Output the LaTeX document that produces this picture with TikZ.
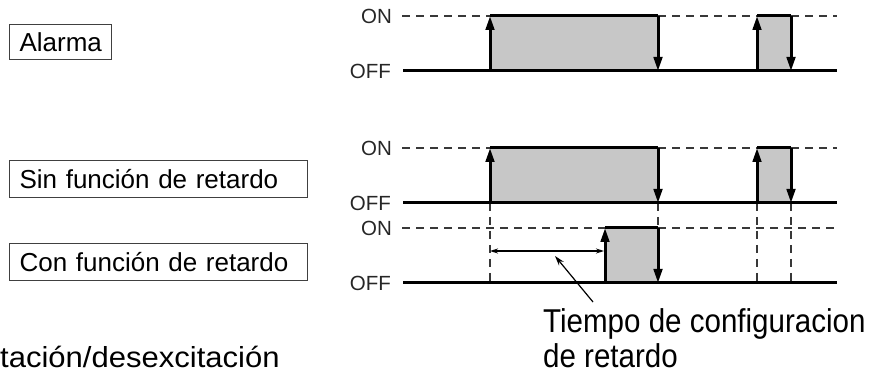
\documentclass[tikz,border=0pt]{standalone}
\usepackage{fontspec}
\usepackage{graphicx}
\setmainfont{Liberation Sans}
\usetikzlibrary{arrows.meta}

\begin{document}
\begin{tikzpicture}[x=1pt,y=-1pt,
  sig/.style={line width=3pt, draw=black},
  lvl/.style={line width=1.8pt, draw=black!78, dash pattern=on 8pt off 6pt},
  guide/.style={line width=1.6pt, draw=black!78, dash pattern=on 8pt off 6pt},
  edge/.style={sig, -{Triangle[length=14pt,width=8.5pt]}},
  pulse/.style={fill=black!22},
  tag/.style={font=\fontsize{20.5}{20.5}\selectfont, text=black!85, anchor=east, inner sep=0pt},
  lblbox/.style={draw=black!75, line width=1.1pt, anchor=north west, inner xsep=10pt,
                 inner ysep=0pt, align=left, font=\fontsize{26}{26}\selectfont},
  note/.style={font=\fontsize{33}{34}\selectfont, anchor=base west, inner sep=0pt},
  fine/.style={line width=1.2pt, draw=black}
]
\useasboundingbox (0,0) rectangle (879,374);

% ---- signal names ----
\node[lblbox, text width=82pt, minimum height=35pt] (alarm) at (9,24) {Alarma};
\node[lblbox, text width=278pt, minimum height=37pt] (nodelay) at (9,160) {Sin función de retardo};
\node[lblbox, text width=278pt, minimum height=37pt] (withdelay) at (9,243) {Con función de retardo};

% ---- level labels ----
\node[tag] (on1)  at (392,16)  {ON};
\node[tag] (off1) at (391,71)  {OFF};
\node[tag] (on2)  at (392,148) {ON};
\node[tag] (off2) at (391,203) {OFF};
\node[tag] (on3)  at (392,228) {ON};
\node[tag] (off3) at (391,283) {OFF};

% ---- pulse fills ----
\fill[pulse] (490,16) rectangle (658,71);
\fill[pulse] (757,16) rectangle (791,71);
\fill[pulse] (490,148) rectangle (658,203);
\fill[pulse] (757,148) rectangle (791,203);
\fill[pulse] (605,228) rectangle (658,283);

% ---- ON reference levels ----
\draw[lvl] (402,16) -- (490,16) (658,16) -- (757,16) (791,16) -- (837,16);
\draw[lvl] (402,148) -- (490,148) (658,148) -- (757,148) (791,148) -- (837,148);
\draw[lvl] (402,228) -- (605,228) (658,228) -- (837,228);

% ---- timing guides ----
\draw[guide] (490,203) -- (490,283);
\draw[guide] (658,203) -- (658,228);
\draw[guide] (757,203) -- (757,283);
\draw[guide] (791,203) -- (791,283);

% ---- Alarma ----
\draw[sig] (403,71) -- (837,71);
\draw[sig] (490,16) -- (658,16) (757,16) -- (791,16);
\draw[edge] (490,71) -- (490,16);
\draw[edge] (658,16) -- (658,71);
\draw[edge] (757,71) -- (757,16);
\draw[edge] (791,16) -- (791,71);

% ---- without delay ----
\draw[sig] (403,203) -- (837,203);
\draw[sig] (490,148) -- (658,148) (757,148) -- (791,148);
\draw[edge] (490,203) -- (490,148);
\draw[edge] (658,148) -- (658,203);
\draw[edge] (757,203) -- (757,148);
\draw[edge] (791,148) -- (791,203);

% ---- with delay ----
\draw[sig] (403,283) -- (837,283);
\draw[sig] (605,228) -- (658,228);
\draw[edge] (605,283) -- (605,228);
\draw[edge] (658,228) -- (658,283);

% ---- delay time ----
\coordinate (dstart) at (490,251);
\coordinate (dend) at (604,251);
\draw[fine, {Stealth[length=8pt,width=5pt]}-{Stealth[length=8pt,width=5pt]}] (dstart) -- (dend);
\node[note] (tdelay) at (543,333) {\scalebox{0.895}[1]{Tiempo de configuracion}};
\node[note] (tdelay2) at (543,367) {\scalebox{0.895}[1]{de retardo}};
\coordinate (lead) at (593,302);
\coordinate (leadtip) at (555,256);
\draw[fine, -{Stealth[length=10pt,width=6pt]}] (lead) -- (leadtip);

% ---- mode caption ----
\node[anchor=base west, inner sep=0pt, font=\fontsize{29}{29}\selectfont] (mode) at (0,367) {\scalebox{1.07}[1]{tación/desexcitación}};
\end{tikzpicture}
\end{document}
